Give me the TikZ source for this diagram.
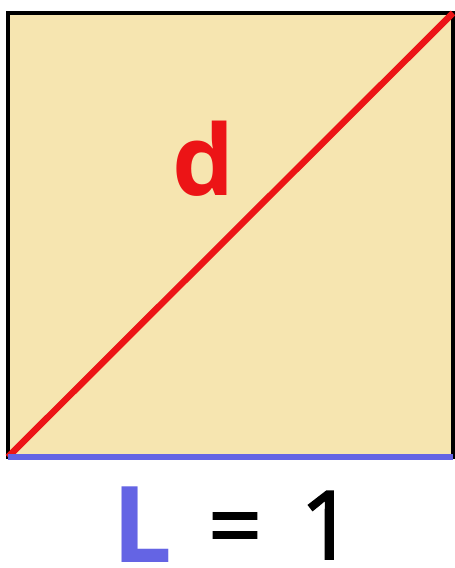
\documentclass[tikz,border=0pt]{standalone}
\usepackage{fontspec}
\setmainfont{Open Sans}
\newfontfamily\medfont[FakeBold=1.6]{Open Sans}
\definecolor{sqfill}{RGB}{246,229,176}
\definecolor{diagred}{RGB}{236,20,22}
\definecolor{lblue}{RGB}{100,100,228}
\begin{document}
\begin{tikzpicture}[x=1pt,y=-1pt,
  lbl/.style={inner sep=0pt,anchor=base}]
\useasboundingbox (0,0) rectangle (455,568);
\coordinate (tl) at (8,13);
\coordinate (tr) at (453,13);
\coordinate (bl) at (8,457);
\coordinate (br) at (453,457);
\draw[fill=sqfill,line width=3.5pt] (tl) rectangle (br);
\draw[diagred,line width=6.5pt] (bl) -- (tr);
\draw[lblue,line width=6.5pt] (bl) -- (br);
\node[lbl,text=diagred,font=\fontsize{98}{98}\selectfont\bfseries] (d) at (204,195) {d};
\node[lbl,text=lblue,font=\fontsize{106}{106}\selectfont\bfseries] (L) at (142,562) {L};
\node[lbl,font=\fontsize{95}{95}\selectfont\medfont] (eq) at (235,559) {=};
\node[lbl,font=\fontsize{95}{95}\selectfont\medfont] (one) at (327,559) {1};
\end{tikzpicture}
\end{document}
